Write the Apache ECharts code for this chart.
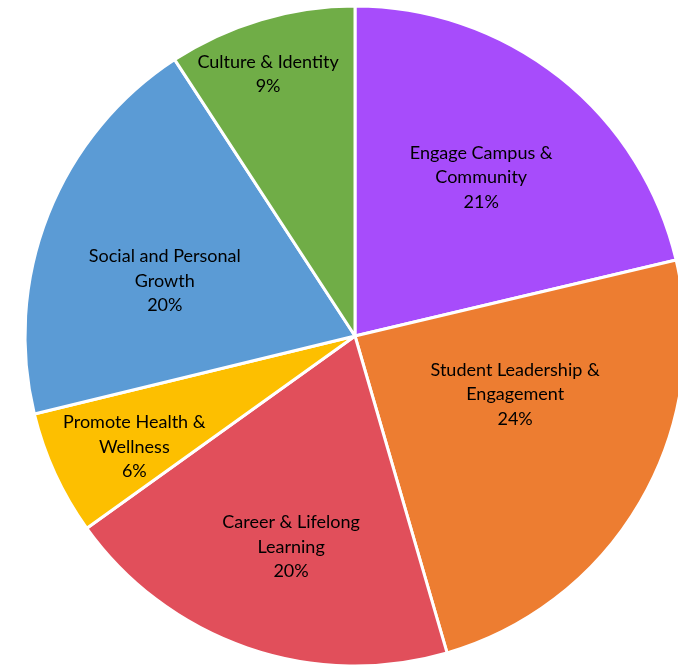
<!DOCTYPE html>
<html>
<head>
<meta charset="utf-8">
<script src="https://cdn.jsdelivr.net/npm/echarts@6/dist/echarts.min.js"></script>
<style>
  html, body { margin: 0; padding: 0; background: #fff; }
  #chart { width: 678px; height: 668px; }
</style>
</head>
<body>
<div id="chart"></div>
<script>
// slice names (clockwise from 12 o'clock) and their share in percent
var categories = [
  "Engage Campus &\nCommunity",
  "Student Leadership &\nEngagement",
  "Career & Lifelong\nLearning",
  "Promote Health &\nWellness",
  "Social and Personal\nGrowth",
  "Culture & Identity"
];
var values = [21.3, 24.2, 19.6, 6.1, 19.6, 9.2];

var colors = ["#A74CFB", "#ED7D31", "#E14F5B", "#FDBF00", "#5B9BD5", "#70AD47"];
// nudges so labels sit where the original had them
var labelOffsets = [[22, -27], [15, -26], [-9, 52], [-68, 41], [-34, 7], [-39, -101]];

var chart = echarts.init(document.getElementById("chart"));
var option = {
  animation: false,
  series: [
    {
      type: "pie",
      center: [355, 336],
      radius: [0, 330],
      startAngle: 90,
      clockwise: true,
      itemStyle: {
        borderColor: "#fff",
        borderWidth: 3
      },
      label: {
        show: true,
        position: "inside",
        formatter: function (p) {
          return p.name + "\n" + Math.round(p.value) + "%";
        },
        color: "#000",
        fontFamily: "Lato",
        fontSize: 18,
        lineHeight: 24.5,
        align: "center"
      },
      labelLine: { show: false },
      emphasis: { disabled: true },
      data: categories.map(function (name, i) {
        return {
          name: name,
          value: values[i],
          itemStyle: { color: colors[i] },
          label: { offset: labelOffsets[i] }
        };
      })
    }
  ]
};
chart.setOption(option);
</script>
</body>
</html>
